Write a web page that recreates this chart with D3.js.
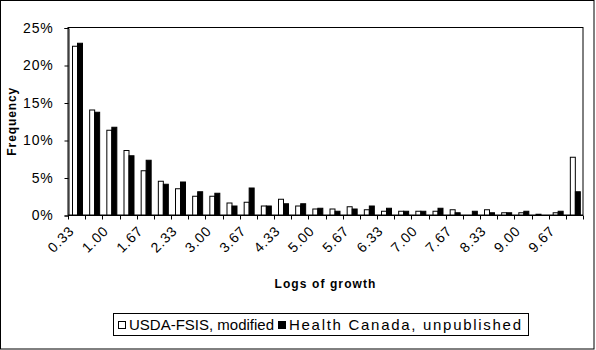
<!DOCTYPE html>
<html>
<head>
<meta charset="utf-8">
<script src="https://cdn.jsdelivr.net/npm/d3@7"></script>
<style>
  html, body { margin: 0; padding: 0; background: #fff; }
  svg { display: block; font-family: Arial, "Liberation Sans", sans-serif; }
</style>
</head>
<body>
<svg id="chart" width="596" height="350"></svg>
<script>
// Log-growth classes (in logs), every third of a log
const categories = ["0.33","0.67","1.00","1.33","1.67","2.00","2.33","2.67","3.00","3.33",
  "3.67","4.00","4.33","4.67","5.00","5.33","5.67","6.00","6.33","6.67",
  "7.00","7.33","7.67","8.00","8.33","8.67","9.00","9.33","9.67","10.00"];

// Frequency (%) in each class
const usdaFsis = [22.5,14.0,11.3,8.6,5.9,4.5,3.5,2.5,2.5,1.6,
  1.7,1.2,2.1,1.2,0.8,0.8,1.1,0.7,0.5,0.5,
  0.5,0.5,0.7,0.0,0.7,0.3,0.3,0.1,0.3,7.7];
const healthCanada = [22.9,13.7,11.7,7.9,7.3,4.1,4.4,3.1,2.9,1.2,
  3.6,1.2,1.5,1.5,0.9,0.5,0.8,1.2,0.9,0.5,
  0.5,0.9,0.3,0.5,0.3,0.3,0.5,0.0,0.5,3.1];

const seriesNames = ["USDA-FSIS, modified", "Health Canada, unpublished"];
const yTicks = [0, 5, 10, 15, 20, 25];
const xTickLabels = categories.filter((d, i) => i % 2 === 0);

const svg = d3.select("#chart");
const W = 596, H = 350;
const plot = { left: 68, right: 583, top: 27.5, bottom: 215 };

// outer frame
svg.append("rect")
  .attr("x", 0.5).attr("y", 0.5)
  .attr("width", W - 2.5).attr("height", H - 1.5)
  .attr("fill", "#fff").attr("stroke", "#000").attr("stroke-width", 1);

const x = d3.scaleBand().domain(categories).range([plot.left, plot.right]).padding(0);
const x1 = d3.scaleBand().domain(seriesNames)
  .range([0, x.bandwidth()]).paddingInner(0).paddingOuter(0.72);
const y = d3.scaleLinear().domain([0, 25]).range([plot.bottom, plot.top]);

// plot area box
svg.append("rect")
  .attr("x", plot.left).attr("y", plot.top)
  .attr("width", plot.right - plot.left).attr("height", plot.bottom - plot.top)
  .attr("fill", "none").attr("stroke", "#000").attr("stroke-width", 1);

// bars
const rows = categories.map((c, i) => ({ c, vals: [usdaFsis[i], healthCanada[i]] }));
const groups = svg.append("g").selectAll("g").data(rows).join("g")
  .attr("transform", d => `translate(${x(d.c)},0)`);
groups.selectAll("rect").data(d => d.vals.map((v, k) => ({ v, k })))
  .join("rect")
  .attr("x", d => Math.round(x1(seriesNames[d.k])) + 0.5)
  .attr("y", d => y(d.v))
  .attr("width", x1.bandwidth())
  .attr("height", d => y(0) - y(d.v))
  .attr("fill", d => d.k === 0 ? "#fff" : "#000")
  .attr("stroke", "#000").attr("stroke-width", 1);

// y axis
const yAxis = d3.axisLeft(y).tickValues(yTicks).tickFormat(d => d + "%").tickSize(4).tickPadding(11);
const gy = svg.append("g").attr("transform", `translate(${plot.left + 0.5},0.5)`).call(yAxis);
gy.select(".domain").attr("stroke", "#000");
gy.selectAll(".tick line").attr("stroke", "#000");
gy.selectAll(".tick text").attr("font-size", 14).attr("font-family", "Arial, 'Liberation Sans', sans-serif")
  .attr("letter-spacing", 0.8)
  .attr("fill", "#000");

// x axis: ticks at category boundaries
const gx = svg.append("g").attr("transform", `translate(0,${plot.bottom + 0.5})`);
gx.append("line").attr("x1", plot.left).attr("x2", plot.right).attr("stroke", "#000");
gx.selectAll("line.tk").data(categories.concat(["end"])).join("line")
  .attr("class", "tk")
  .attr("x1", (d, i) => Math.round(plot.left + i * x.step()) + 0.5)
  .attr("x2", (d, i) => Math.round(plot.left + i * x.step()) + 0.5)
  .attr("y1", 0).attr("y2", 4).attr("stroke", "#000");
gx.selectAll("text").data(xTickLabels).join("text")
  .attr("transform", d => `translate(${x(d) + x.bandwidth() / 2 - 5},${13}) rotate(-45)`)
  .attr("text-anchor", "end")
  .attr("dy", "0.35em")
  .attr("font-size", 14)
  .attr("letter-spacing", 0.8)
  .attr("fill", "#000")
  .text(d => d);

// axis titles
svg.append("text")
  .attr("x", (plot.left + plot.right) / 2).attr("y", 288)
  .attr("text-anchor", "middle").attr("font-size", 12).attr("font-weight", "bold")
  .attr("letter-spacing", 1.1)
  .text("Logs of growth");
svg.append("text")
  .attr("transform", `translate(16,${(plot.top + plot.bottom) / 2}) rotate(-90)`)
  .attr("text-anchor", "middle").attr("font-size", 12).attr("font-weight", "bold")
  .attr("letter-spacing", 0.9)
  .text("Frequency");

// legend
const lg = svg.append("g");
lg.append("rect").attr("x", 113.5).attr("y", 313.5).attr("width", 415).attr("height", 22)
  .attr("fill", "#fff").attr("stroke", "#000");
const legendX = [118, 278];
const legendLen = [145, 232];
seriesNames.forEach((name, k) => {
  lg.append("rect").attr("x", legendX[k] + 0.5).attr("y", 321.5).attr("width", 7).attr("height", 7)
    .attr("fill", k === 0 ? "#fff" : "#000").attr("stroke", "#000");
  lg.append("text").attr("x", legendX[k] + 11).attr("y", 330)
    .attr("font-size", 15)
    .attr("textLength", legendLen[k]).attr("lengthAdjust", "spacing")
    .attr("fill", "#000").text(name);
});
</script>
</body>
</html>
